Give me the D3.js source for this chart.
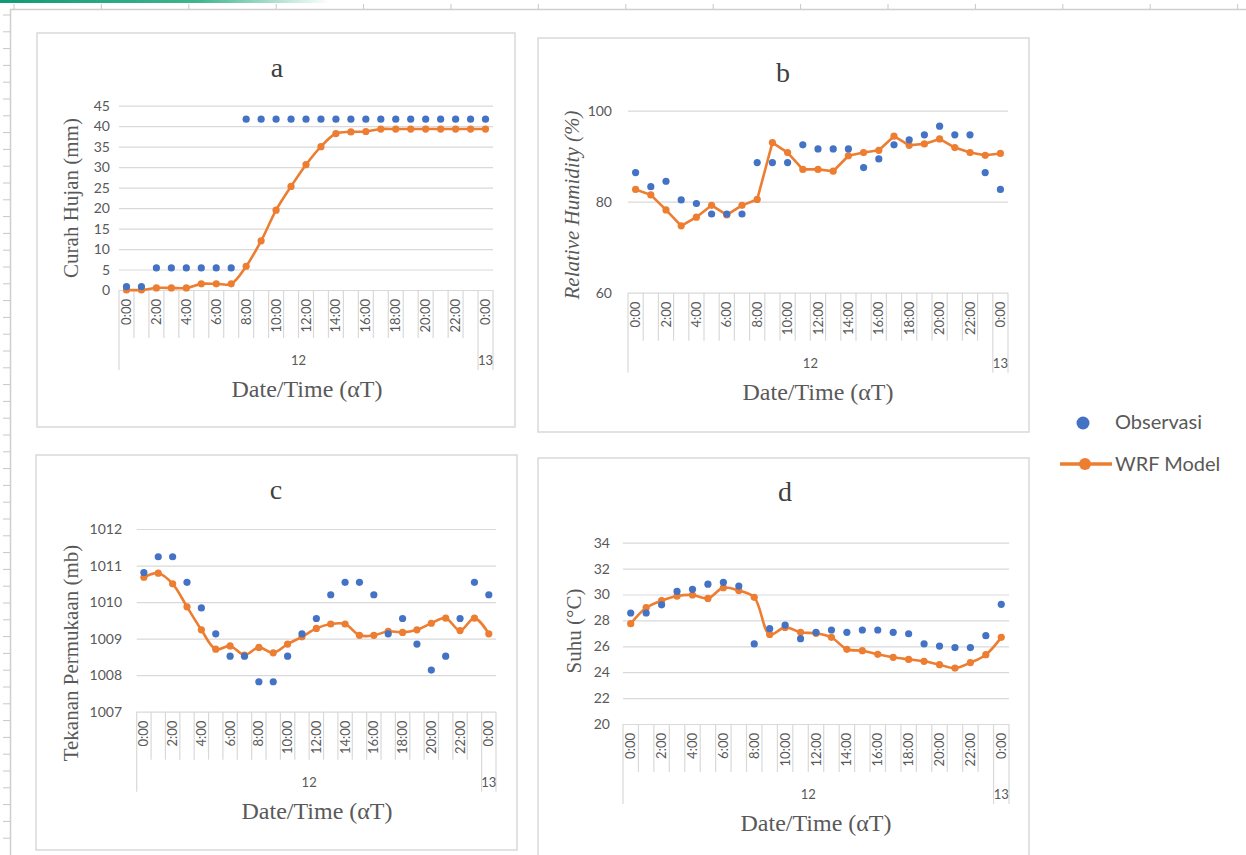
<!DOCTYPE html>
<html>
<head>
<meta charset="utf-8">
<script src="https://cdn.jsdelivr.net/npm/d3@7/dist/d3.min.js"></script>
<style>
  body { margin: 0; background: #fff; }
  svg { display: block; }
</style>
</head>
<body>
<svg id="chart" width="1246" height="855"></svg>
<script>
// categories: hourly from 0:00 on the 12th to 0:00 on the 13th
var hourLabels = ["0:00", "1:00", "2:00", "3:00", "4:00", "5:00", "6:00", "7:00", "8:00", "9:00",
  "10:00", "11:00", "12:00", "13:00", "14:00", "15:00", "16:00", "17:00", "18:00", "19:00",
  "20:00", "21:00", "22:00", "23:00", "0:00"];
var dayLabels = ["12", "13"];
var daySpans = [[0, 24], [24, 25]];

// a - rainfall (mm)
var rainObs = [0.8, 0.8, 5.4, 5.4, 5.4, 5.4, 5.4, 5.4, 41.7, 41.7, 41.7, 41.7, 41.7, 41.7, 41.7, 41.7,
  41.7, 41.7, 41.7, 41.7, 41.7, 41.7, 41.7, 41.7, 41.7];
var rainWrf = [0, 0, 0.5, 0.5, 0.5, 1.5, 1.5, 1.5, 5.8, 12, 19.5, 25.3, 30.6, 35, 38.2, 38.6,
  38.7, 39.3, 39.3, 39.3, 39.3, 39.3, 39.3, 39.3, 39.3];
var rainTicks = [0, 5, 10, 15, 20, 25, 30, 35, 40, 45];

// b - relative humidity (%)
var rhObs = [86.4, 83.3, 84.5, 80.4, 79.6, 77.3, 77.3, 77.3, 88.6, 88.6, 88.6, 92.5, 91.6, 91.6,
  91.6, 87.5, 89.4, 92.5, 93.6, 94.7, 96.6, 94.7, 94.7, 86.4, 82.7];
var rhWrf = [82.7, 81.5, 78.2, 74.7, 76.6, 79.2, 77.1, 79.2, 80.5, 93.0, 90.8, 87.1, 87.1, 86.7,
  90.1, 90.8, 91.3, 94.4, 92.4, 92.7, 93.8, 91.9, 90.8, 90.2, 90.6];
var rhTicks = [60, 80, 100];

// c - surface pressure (mb)
var presObs = [1010.81, 1011.24, 1011.24, 1010.54, 1009.84, 1009.13, 1008.52, 1008.52, 1007.82,
  1007.82, 1008.52, 1009.13, 1009.55, 1010.2, 1010.54, 1010.54, 1010.2, 1009.13, 1009.55,
  1008.85, 1008.14, 1008.52, 1009.55, 1010.54, 1010.2];
var presWrf = [1010.68, 1010.79, 1010.5, 1009.87, 1009.24, 1008.71, 1008.8, 1008.55, 1008.76,
  1008.61, 1008.85, 1009.05, 1009.28, 1009.4, 1009.4, 1009.09, 1009.09, 1009.2, 1009.17,
  1009.24, 1009.42, 1009.56, 1009.22, 1009.56, 1009.13];
var presTicks = [1007, 1008, 1009, 1010, 1011, 1012];

// d - temperature (°C)
var tempObs = [28.57, 28.57, 29.2, 30.24, 30.4, 30.8, 30.94, 30.65, 26.18, 27.36, 27.64, 26.59,
  27.08, 27.26, 27.08, 27.26, 27.26, 27.08, 26.97, 26.18, 26.02, 25.9, 25.9, 26.82, 29.24];
var tempWrf = [27.75, 28.98, 29.52, 29.88, 29.96, 29.7, 30.53, 30.3, 29.78, 26.92, 27.46, 27.08,
  27.0, 26.69, 25.77, 25.66, 25.38, 25.15, 24.99, 24.84, 24.58, 24.32, 24.74, 25.35, 26.69];
var tempTicks = [20, 22, 24, 26, 28, 30, 32, 34];

var seriesNames = ["Observasi", "WRF Model"];

var BLUE = "#4472c4", ORANGE = "#ed7d31", TEXT = "#595959", GRID = "#d9d9d9";
var SANS = "Lato, 'Open Sans', sans-serif";
var SERIF = "'Liberation Serif', 'Times New Roman', serif";

var svg = d3.select("#chart");

// spreadsheet chrome behind the charts
var defs = svg.append("defs");
var grad = defs.append("linearGradient").attr("id", "sel");
grad.append("stop").attr("offset", "0%").attr("stop-color", "#0f9a75");
grad.append("stop").attr("offset", "60%").attr("stop-color", "#3fb58f");
grad.append("stop").attr("offset", "100%").attr("stop-color", "#ffffff");
svg.append("rect").attr("x", 0).attr("y", 0).attr("width", 330).attr("height", 3).attr("fill", "url(#sel)");

svg.append("line").attr("x1", 10).attr("x2", 1246).attr("y1", 9.5).attr("y2", 9.5)
  .attr("stroke", "#cfcfcf").attr("stroke-width", 1.5);
svg.append("line").attr("x1", 10.5).attr("x2", 10.5).attr("y1", 9).attr("y2", 855)
  .attr("stroke", "#cfcfcf").attr("stroke-width", 1.5);
svg.append("g").selectAll("line").data(d3.range(14, 1246, 87.4)).join("line")
  .attr("x1", function (d) { return d; }).attr("x2", function (d) { return d; })
  .attr("y1", 4).attr("y2", 9).attr("stroke", "#c8c8c8");
svg.append("g").selectAll("line").data(d3.range(15, 855, 16.8)).join("line")
  .attr("x1", 3).attr("x2", 10).attr("y1", function (d) { return d; }).attr("y2", function (d) { return d; })
  .attr("stroke", "#c8c8c8");

var panels = [
  { title: "a", obs: rainObs, wrf: rainWrf, ticks: rainTicks, ylabel: "Curah Hujan (mm)", italic: false,
    box: [37, 33, 478, 394], x0: 119, x1: 493, yTop: 105.7, yBot: 290, labelRight: 110,
    titleX: 277, titleY: 77, ylabX: 78, ylabY: 198, curve: d3.curveCatmullRom, axisCx: 307 },
  { title: "b", obs: rhObs, wrf: rhWrf, ticks: rhTicks, ylabel: "Relative Humidity (%)", italic: true,
    box: [538, 38, 491, 394], x0: 628, x1: 1008, yTop: 110.7, yBot: 292.7, labelRight: 612,
    titleX: 783, titleY: 82, ylabX: 579, ylabY: 205, curve: d3.curveLinear, axisCx: 818 },
  { title: "c", obs: presObs, wrf: presWrf, ticks: presTicks, ylabel: "Tekanan Permukaan (mb)", italic: false,
    box: [36, 455, 481, 395], x0: 136.7, x1: 496, yTop: 529, yBot: 711.7, labelRight: 122,
    titleX: 276, titleY: 499, ylabX: 78, ylabY: 653, curve: d3.curveCatmullRom, axisCx: 317 },
  { title: "d", obs: tempObs, wrf: tempWrf, ticks: tempTicks, ylabel: "Suhu (°C)", italic: false,
    box: [538, 458, 491, 420], x0: 623, x1: 1009, yTop: 542.7, yBot: 724, labelRight: 610,
    titleX: 785, titleY: 501, ylabX: 581, ylabY: 631, curve: d3.curveCatmullRom, axisCx: 816 }
];

panels.forEach(drawPanel);

function drawPanel(p) {
  var g = svg.append("g");

  g.append("rect")
    .attr("x", p.box[0]).attr("y", p.box[1]).attr("width", p.box[2]).attr("height", p.box[3])
    .attr("fill", "#fff").attr("stroke", "#d9d9d9").attr("stroke-width", 1.5);

  g.append("text").text(p.title)
    .attr("x", p.titleX).attr("y", p.titleY).attr("text-anchor", "middle")
    .attr("font-family", SERIF).attr("font-size", 28).attr("fill", "#404040");

  var y = d3.scaleLinear()
    .domain([p.ticks[0], p.ticks[p.ticks.length - 1]])
    .range([p.yBot, p.yTop]);

  var x = d3.scaleBand()
    .domain(hourLabels.map(function (d, i) { return i; }))
    .range([p.x0, p.x1])
    .paddingInner(0).paddingOuter(0);

  // gridlines
  var grid = g.append("g")
    .attr("transform", "translate(" + p.x0 + ",0)")
    .call(d3.axisLeft(y).tickValues(p.ticks).tickSize(-(p.x1 - p.x0)).tickFormat(""));
  grid.select(".domain").remove();
  grid.selectAll("line").attr("stroke", GRID).attr("stroke-width", 1.2);

  // y tick labels
  var ya = g.append("g")
    .attr("transform", "translate(" + p.labelRight + ",0)")
    .call(d3.axisLeft(y).tickValues(p.ticks).tickSize(0).tickPadding(0)
      .tickFormat(function (d) { return String(d); }));
  ya.select(".domain").remove();
  ya.selectAll("text")
    .attr("font-family", SANS).attr("font-size", 14).attr("fill", TEXT);

  // category (multi-level) axis
  var step = x.step();
  var bounds = d3.range(hourLabels.length + 1);
  g.append("g").selectAll("line").data(bounds).join("line")
    .attr("x1", function (i) { return p.x0 + i * step; })
    .attr("x2", function (i) { return p.x0 + i * step; })
    .attr("y1", p.yBot)
    .attr("y2", function (i) {
      var isGroup = daySpans.some(function (s) { return s[0] === i || s[1] === i; });
      return isGroup ? p.yBot + 80 : p.yBot + 48;
    })
    .attr("stroke", GRID).attr("stroke-width", 1.2);

  g.append("g").selectAll("text")
    .data(hourLabels.map(function (d, i) { return { label: d, i: i }; })
      .filter(function (d) { return d.i % 2 === 0; }))
    .join("text")
    .text(function (d) { return d.label; })
    .attr("transform", function (d) {
      return "translate(" + (x(d.i) + step / 2 + 4.5) + "," + (p.yBot + 9) + ") rotate(-90)";
    })
    .attr("text-anchor", "end")
    .attr("font-family", SANS).attr("font-size", 13).attr("fill", TEXT);

  g.append("g").selectAll("text").data(dayLabels).join("text")
    .text(function (d) { return d; })
    .attr("x", function (d, k) { return p.x0 + (daySpans[k][0] + daySpans[k][1]) / 2 * step; })
    .attr("y", p.yBot + 75)
    .attr("text-anchor", "middle")
    .attr("font-family", SANS).attr("font-size", 13).attr("fill", TEXT);

  g.append("text").text("Date/Time (αT)")
    .attr("x", p.axisCx).attr("y", p.yBot + 107)
    .attr("text-anchor", "middle")
    .attr("font-family", SERIF).attr("font-size", 24).attr("fill", TEXT);

  g.append("text").text(p.ylabel)
    .attr("transform", "translate(" + p.ylabX + "," + p.ylabY + ") rotate(-90)")
    .attr("text-anchor", "middle")
    .attr("font-family", SERIF).attr("font-size", 21)
    .attr("font-style", p.italic ? "italic" : "normal")
    .attr("fill", TEXT);

  var cx = function (d, i) { return x(i) + step / 2; };

  // WRF model line + markers
  var line = d3.line()
    .x(cx)
    .y(function (d) { return y(d); })
    .curve(p.curve);
  g.append("path").datum(p.wrf)
    .attr("d", line)
    .attr("fill", "none").attr("stroke", ORANGE).attr("stroke-width", 2.6)
    .attr("stroke-linejoin", "round").attr("stroke-linecap", "round");
  g.append("g").selectAll("circle").data(p.wrf).join("circle")
    .attr("cx", cx).attr("cy", function (d) { return y(d); })
    .attr("r", 3.6).attr("fill", ORANGE);

  // observations
  g.append("g").selectAll("circle").data(p.obs).join("circle")
    .attr("cx", cx).attr("cy", function (d) { return y(d); })
    .attr("r", 3.6).attr("fill", BLUE);
}

// legend
var lg = svg.append("g");
lg.append("circle").attr("cx", 1083).attr("cy", 423).attr("r", 6.5).attr("fill", BLUE);
lg.append("text").text(seriesNames[0]).attr("x", 1115).attr("y", 429)
  .attr("font-family", SANS).attr("font-size", 20).attr("fill", TEXT);
lg.append("line").attr("x1", 1060).attr("x2", 1112).attr("y1", 464).attr("y2", 464)
  .attr("stroke", ORANGE).attr("stroke-width", 3.5);
lg.append("circle").attr("cx", 1085).attr("cy", 464).attr("r", 6).attr("fill", ORANGE);
lg.append("text").text(seriesNames[1]).attr("x", 1115).attr("y", 471)
  .attr("font-family", SANS).attr("font-size", 20).attr("fill", TEXT);
</script>
</body>
</html>
